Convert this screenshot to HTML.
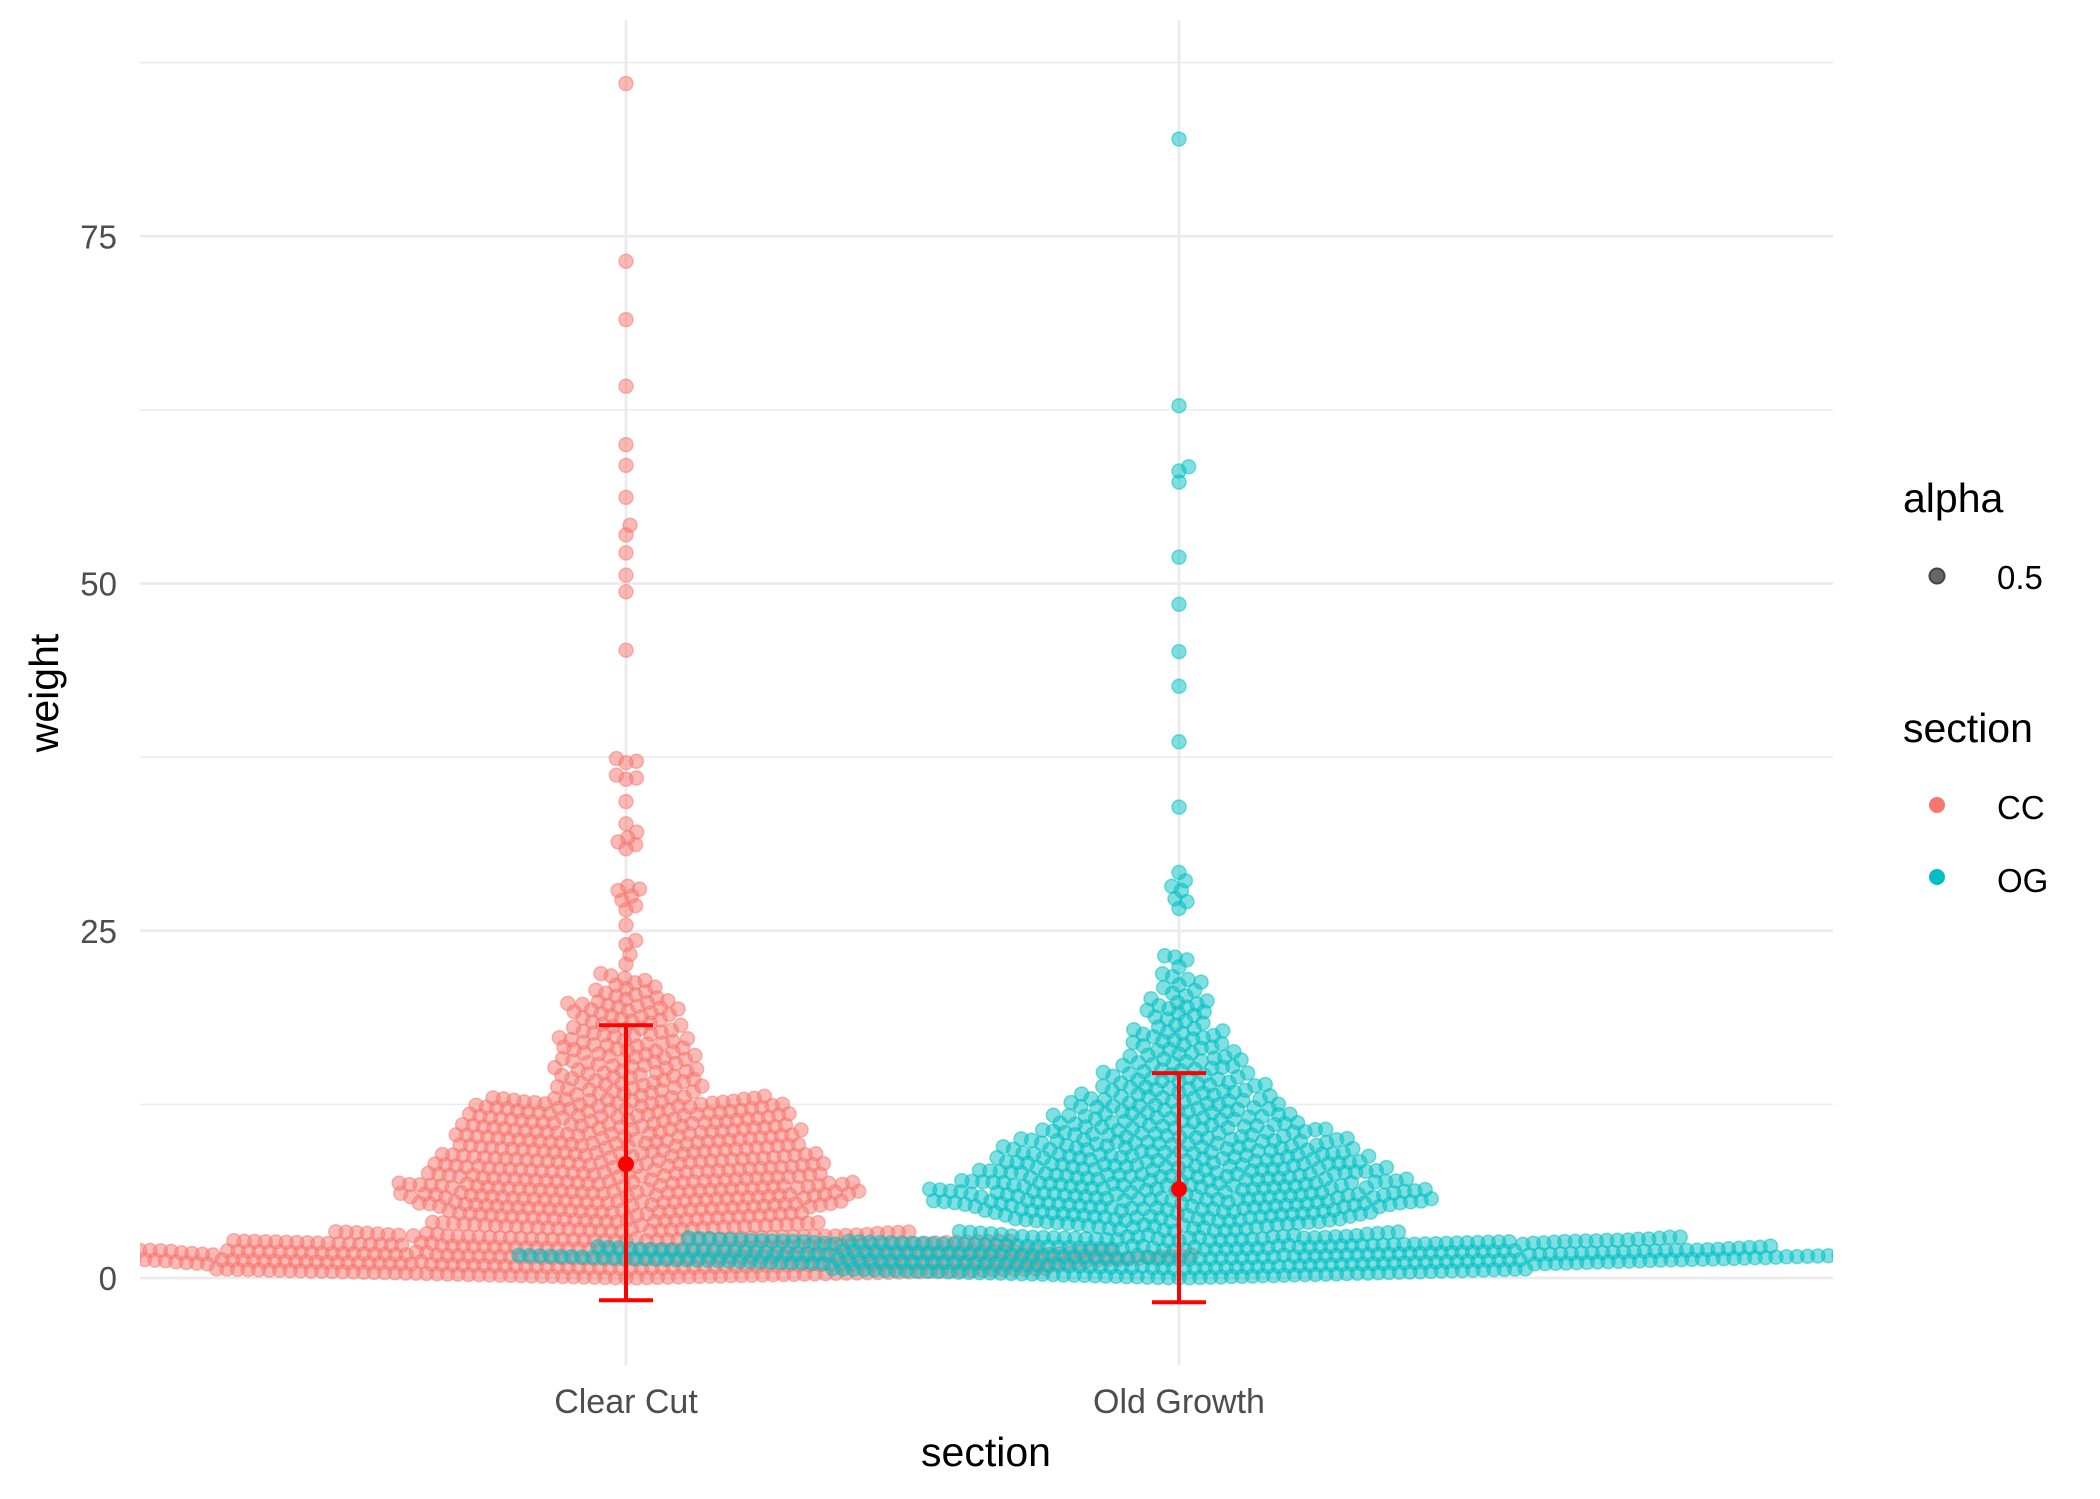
<!DOCTYPE html>
<html><head><meta charset="utf-8"><style>
html,body{margin:0;padding:0;background:#fff;}
svg{display:block;font-family:"Liberation Sans",Arial,sans-serif;}
</style></head><body>
<svg id="chart" width="2100" height="1499" viewBox="0 0 2100 1499" xmlns="http://www.w3.org/2000/svg">
<defs><clipPath id="panelClip"><rect x="140" y="20" width="1693" height="1345"/></clipPath></defs>
<g id="grid"></g>
<g id="points" clip-path="url(#panelClip)"></g>
<g id="errbars"></g>
<g id="axes"></g>
<text x="986" y="1466" font-size="41" text-anchor="middle" fill="#000">section</text>
<text transform="translate(58,693) rotate(-90)" font-size="41" text-anchor="middle" fill="#000">weight</text>
<g>
<text x="1903" y="512" font-size="41" fill="#000">alpha</text>
<circle cx="1937" cy="576" r="7.5" fill="#666" stroke="#444" stroke-width="2"/>
<text x="1997" y="589" font-size="33" fill="#000">0.5</text>
</g>
<g>
<text x="1903" y="742" font-size="41" fill="#000">section</text>
<circle cx="1937" cy="805" r="8" fill="#F8766D"/>
<text x="1997" y="819" font-size="33" fill="#000">CC</text>
<circle cx="1937" cy="877" r="8" fill="#00BFC4"/>
<text x="1997" y="892" font-size="33" fill="#000">OG</text>
</g>
</svg>
<script>
const categories = ["Clear Cut", "Old Growth"];
const yMajorTicks = [0, 25, 50, 75];
const yMinorTicks = [12.5, 37.5, 62.5, 87.5];
const ccOutliers = [86, 73.2, 69, 64.2, 60, 58.5, 56.2, 54.2, 53.5, 52.2, 50.6, 49.4, 45.2,
  37.4, 37.2, 37.1, 36.2, 36, 35.9, 34.3, 32.7, 32.1, 31.7, 31.4, 30.9, 31.2,
  28.2, 28, 27.9, 27.5, 27.2, 26.8, 26.5, 25.4, 24.3, 24, 23.3, 22.6];
const ccBinStart = [0,1,2,3,4,5,6,7,8,9,10,11,12,13,14,15,16,17,18,19,20,21];
const ccBinCount = [120,160,110,56,50,61,63,53,51,47,46,43,42,19,18,17,17,15,13,15,9,6];
const ogOutliers = [82, 62.8, 58.4, 58.1, 57.3, 51.9, 48.5, 45.1, 42.6, 38.6, 33.9,
  29.2, 28.6, 28.2, 27.9, 27.3, 27.1, 26.6, 23.2, 23.1, 22.9, 22.4];
const ogBinStart = [0,1,2,3,4,5,6,7,8,9,10,11,12,13,14,15,16,17,18,19,20,21];
const ogBinCount = [100,190,140,37,52,67,61,54,49,43,36,30,26,22,18,15,12,12,7,9,5,5];
const ccSummary = [8.2, -1.6, 18.2];   // mean, lower, upper
const ogSummary = [6.4, -1.75, 14.75];

const NS = "http://www.w3.org/2000/svg";
const X0 = 140, X1 = 1833;
function yScale(v){ return 1278 - v * 13.89; }
function xScale(i){ return [626, 1179][i]; }
function mk(tag, attrs, parent){ const e = document.createElementNS(NS, tag); for (const k in attrs) e.setAttribute(k, attrs[k]); parent.appendChild(e); return e; }

const grid = document.getElementById('grid');
yMinorTicks.forEach(v => {
  const l = mk('line', {x1:X0, x2:X1, y1:yScale(v), y2:yScale(v), stroke:'#EBEBEB', 'stroke-width':1.4}, grid);
  
  
});
yMajorTicks.forEach(v => {
  const l = mk('line', {x1:X0, x2:X1, y1:yScale(v), y2:yScale(v), stroke:'#EBEBEB', 'stroke-width':2.8}, grid);
  
  
});
categories.forEach((c, i) => {
  const l = mk('line', {x1:xScale(i), x2:xScale(i), y1:20, y2:1365, stroke:'#EBEBEB', 'stroke-width':2.8}, grid);
  
  
});

const axes = document.getElementById('axes');
yMajorTicks.forEach(v => {
  const t = mk('text', {x:117, y:yScale(v)+12, 'font-size':33, 'text-anchor':'end', fill:'#4D4D4D'}, axes);
  t.textContent = String(v);
  
  
});
categories.forEach((c, i) => {
  const t = mk('text', {x:xScale(i), y:1413, 'font-size':34, 'text-anchor':'middle', fill:'#4D4D4D'}, axes);
  t.textContent = c;
  
  
});

function expand(outliers, starts, counts){
  const vals = outliers.slice();
  starts.forEach((s, k) => { const n = counts[k]; for (let i = 0; i < n; i++) vals.push(s + (i + 0.5) / n); });
  return vals.sort((a,b) => a - b);
}
function swarm(vals, d){
  const placed = [];
  const out = [];
  vals.forEach(v => {
    const y = yScale(v);
    const near = placed.filter(p => Math.abs(p[1] - y) < d);
    const cands = [0];
    near.forEach(p => { const dx = Math.sqrt(d*d - (p[1]-y)*(p[1]-y)); cands.push(p[0]+dx, p[0]-dx); });
    cands.sort((a,b) => Math.abs(a) - Math.abs(b));
    let xo = 0;
    for (const c of cands) {
      let ok = true;
      for (const p of near) { const dx = p[0]-c, dy = p[1]-y; if (dx*dx + dy*dy < d*d - 0.01) { ok = false; break; } }
      if (ok) { xo = c; break; }
    }
    placed.push([xo, y]);
    out.push([xo, y]);
  });
  return out;
}
const pts = document.getElementById('points');
function drawGroup(i, vals, color, name){
  const pos = swarm(vals, 10.5);
  pos.forEach(p => {
    const c = mk('circle', {cx:(xScale(i)+p[0]).toFixed(1), cy:p[1].toFixed(1), r:7, fill:color, 'fill-opacity':0.5, stroke:color, 'stroke-opacity':0.5, 'stroke-width':1.5}, pts);
    
    
  });
}
drawGroup(0, expand(ccOutliers, ccBinStart, ccBinCount), '#F8766D', 'point-cc');
drawGroup(1, expand(ogOutliers, ogBinStart, ogBinCount), '#00BFC4', 'point-og');

const eb = document.getElementById('errbars');
[ccSummary, ogSummary].forEach((s, i) => {
  const x = xScale(i);
  const v = mk('line', {x1:x, x2:x, y1:yScale(s[1]), y2:yScale(s[2]), stroke:'#FF0000', 'stroke-width':4}, eb);
  
  
  [s[1], s[2]].forEach(val => {
    const h = mk('line', {x1:x-27, x2:x+27, y1:yScale(val), y2:yScale(val), stroke:'#FF0000', 'stroke-width':4}, eb);
    
    
  });
  const m = mk('circle', {cx:x, cy:yScale(s[0]), r:8, fill:'#FF0000'}, eb);
  
  
});
</script>
</body></html>
